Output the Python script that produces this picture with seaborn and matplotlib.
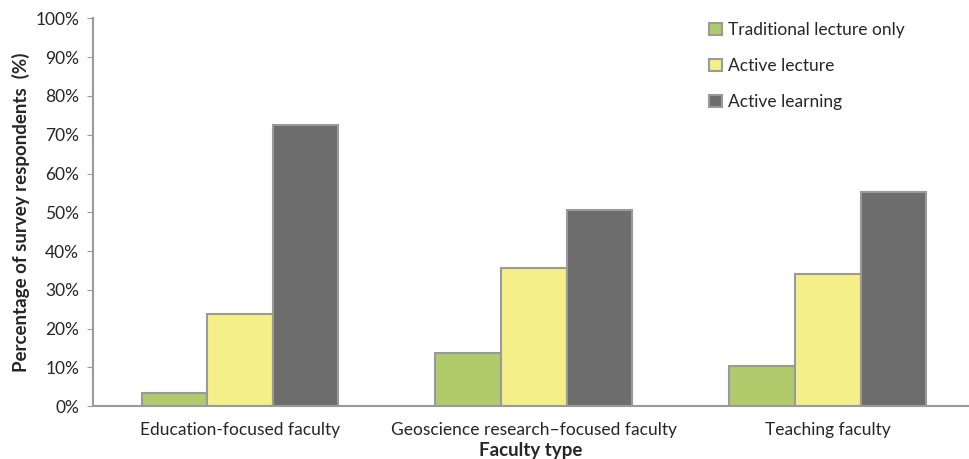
import matplotlib
matplotlib.use("Agg")
import matplotlib.pyplot as plt
import seaborn as sns
import pandas as pd
from matplotlib.ticker import PercentFormatter

faculty = ["Education-focused faculty", "Geoscience research\u2013focused faculty", "Teaching faculty"]
traditional = [3.4, 13.7, 10.4]
active_lecture = [23.8, 35.6, 34.0]
active_learning = [72.5, 50.5, 55.3]

series = ["Traditional lecture only", "Active lecture", "Active learning"]
colors = ["#AFCB6B", "#F4EF86", "#6D6D6D"]

rows = []
for name, vals in zip(series, [traditional, active_lecture, active_learning]):
    for f, v in zip(faculty, vals):
        rows.append({"faculty": f, "method": name, "pct": v})
df = pd.DataFrame(rows)

sns.set_style("white")
plt.rcParams['font.family'] = ['Lato', 'DejaVu Sans']

fig, ax = plt.subplots(figsize=(9.69, 4.59), dpi=100)
sns.barplot(data=df, x="faculty", y="pct", hue="method", palette=colors,
            width=0.67, edgecolor="#9A9A9A", linewidth=1.5, ax=ax, saturation=1)

ax.set_ylim(0, 100)
ax.set_xlim(-0.5, 2.48)
ax.set_yticks(range(0, 101, 10))
ax.yaxis.set_major_formatter(PercentFormatter(decimals=0))
ax.tick_params(axis="y", left=True, length=4, color="#9A9A9A", labelsize=12.5, pad=6)
ax.tick_params(axis="x", bottom=False, labelsize=12.5, pad=8)
for s in ["top", "right"]:
    ax.spines[s].set_visible(False)
for s in ["left", "bottom"]:
    ax.spines[s].set_color("#9A9A9A")
    ax.spines[s].set_linewidth(1.5)

ax.set_ylabel("Percentage of survey respondents  (%)", fontsize=13.5, fontweight="bold")
ax.set_xlabel("Faculty type", fontsize=13.5, fontweight="bold", labelpad=3)

leg = ax.legend(loc="upper right", bbox_to_anchor=(0.945, 1.03), frameon=False, fontsize=12.5,
                handlelength=0.7, handleheight=0.7, labelspacing=1.15, handletextpad=0.4)

fig.subplots_adjust(left=0.096, right=1.0, top=0.96, bottom=0.115)
fig.savefig("out.png", dpi=100)
